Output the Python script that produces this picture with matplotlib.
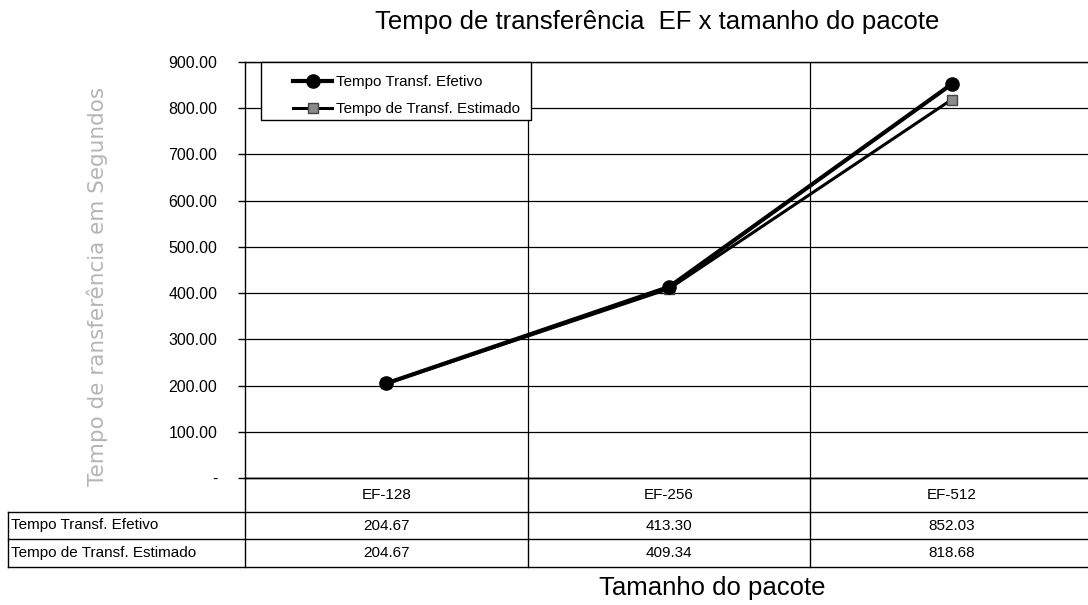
import matplotlib
matplotlib.use("Agg")
import matplotlib.pyplot as plt
from matplotlib.lines import Line2D
from matplotlib.patches import Rectangle

plt.rcParams['font.family'] = ['Liberation Sans', 'DejaVu Sans']

categories = ["EF-128", "EF-256", "EF-512"]
efetivo = [204.67, 413.30, 852.03]
estimado = [204.67, 409.34, 818.68]
series_names = ["Tempo Transf. Efetivo", "Tempo de Transf. Estimado"]
yticks = [0, 100, 200, 300, 400, 500, 600, 700, 800, 900]
ytick_labels = ["-"] + [f"{v:.2f}" for v in yticks[1:]]

W, H = 1088, 605
fig = plt.figure(figsize=(W / 100, H / 100), dpi=100)

def fx(px):
    return px / W

def fy(py):
    return 1 - py / H

left, right, top, bottom = 245, 1093, 62, 478
ax = fig.add_axes([fx(left), fy(bottom), fx(right) - fx(left), fy(top) - fy(bottom)])
n = len(categories)
x = list(range(n))
ax.set_xlim(-0.5, n - 0.5)
ax.set_ylim(0, 900)
ax.set_yticks(yticks)
ax.set_yticklabels(ytick_labels, fontsize=11.5)
ax.set_xticks([])
ax.tick_params(axis='y', direction='out', length=5, width=1, pad=15)
for v in yticks:
    ax.axhline(v, color='black', lw=0.9, zorder=1)
for b in [i + 0.5 for i in range(n - 1)]:
    ax.axvline(b, color='black', lw=0.9, zorder=1)
for s in ax.spines.values():
    s.set_linewidth(1.0)

ax.plot(x, efetivo, color='black', lw=3.0, marker='o', markersize=9.5,
        markerfacecolor='black', markeredgecolor='black', zorder=4)
ax.plot(x, estimado, color='black', lw=2.2, marker='s', markersize=7.5,
        markerfacecolor='#8a8a8a', markeredgecolor='#444444', zorder=3)

handles = [
    Line2D([], [], color='black', lw=3.0, marker='o', markersize=9.5, markerfacecolor='black'),
    Line2D([], [], color='black', lw=2.2, marker='s', markersize=7.5,
           markerfacecolor='#8a8a8a', markeredgecolor='#444444'),
]
# legend frame
fig.add_artist(Rectangle((fx(261), fy(120)), fx(531) - fx(261), fy(62) - fy(120),
                         transform=fig.transFigure, facecolor='white', edgecolor='black',
                         lw=1.0, zorder=5))
leg = fig.legend(handles, series_names, loc='upper left', bbox_to_anchor=(fx(293), fy(75)),
                 frameon=False, fontsize=10.9, handlelength=2.6, handletextpad=0.25,
                 borderpad=0, labelspacing=0.85, borderaxespad=0)
leg.set_zorder(6)

fig.text(fx(657), fy(22), "Tempo de transferência  EF x tamanho do pacote", ha='center', va='center', fontsize=18.5)
fig.text(fx(712), fy(588), "Tamanho do pacote", ha='center', va='center', fontsize=18.5)
fig.text(fx(97), fy(286), "Tempo de ransferência em Segundos", ha='center', va='center',
         rotation=90, fontsize=15.5, color='#b5b5b5', family='DejaVu Sans')

# data table
tab_left, tab_right = 8, 1093
row_y = [478, 512, 539, 567]
col_x = [left + (right - left) * i / n for i in range(n + 1)]
lw = 1.0
def hline(py, x0, x1):
    fig.add_artist(Line2D([fx(x0), fx(x1)], [fy(py), fy(py)], color='black', lw=lw))
def vline(px, y0, y1):
    fig.add_artist(Line2D([fx(px), fx(px)], [fy(y0), fy(y1)], color='black', lw=lw))

hline(row_y[0], left, right)
for py in row_y[1:]:
    hline(py, tab_left, tab_right)
vline(tab_left, row_y[1], row_y[3])
for px in col_x:
    vline(px, row_y[0], row_y[3])

for i, c in enumerate(categories):
    cx = (col_x[i] + col_x[i + 1]) / 2
    fig.text(fx(cx), fy((row_y[0] + row_y[1]) / 2), c, ha='center', va='center', fontsize=11)
    fig.text(fx(cx), fy((row_y[1] + row_y[2]) / 2), f"{efetivo[i]:.2f}", ha='center', va='center', fontsize=11)
    fig.text(fx(cx), fy((row_y[2] + row_y[3]) / 2), f"{estimado[i]:.2f}", ha='center', va='center', fontsize=11)
for j, name in enumerate(series_names):
    fig.text(fx(tab_left + 3), fy((row_y[j + 1] + row_y[j + 2]) / 2), name, ha='left', va='center', fontsize=11)

fig.savefig("out.png", dpi=100)
